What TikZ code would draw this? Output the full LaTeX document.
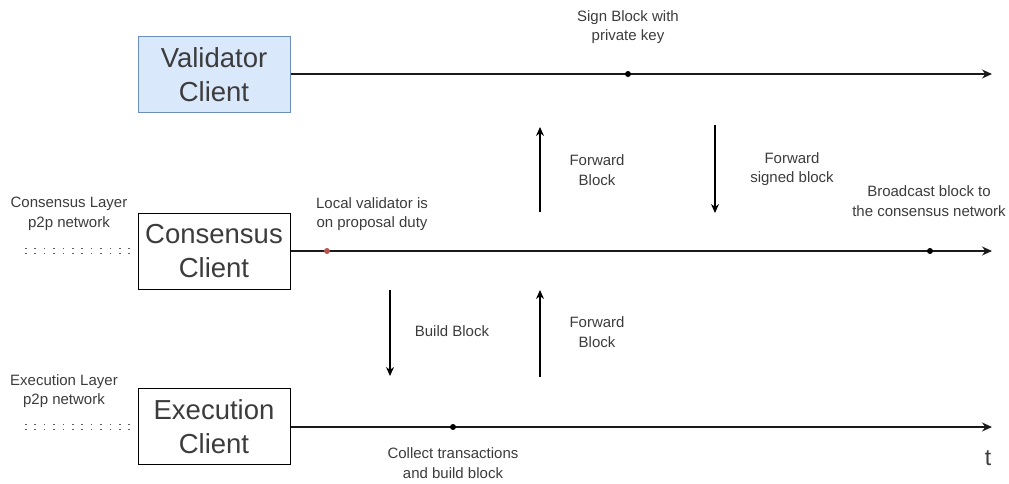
\documentclass[tikz,border=0pt]{standalone}
\usepackage{fontspec}
\setmainfont{Liberation Sans}
\usetikzlibrary{arrows.meta}
\definecolor{vfill}{HTML}{DAE8FC}
\definecolor{vline}{HTML}{6C8EBF}
\definecolor{rdot}{HTML}{B85450}
\definecolor{ink}{HTML}{1A1A1A}
\begin{document}
\begin{tikzpicture}[x=1pt,y=-1pt,
  client/.style={draw=black,line width=1pt,minimum width=152pt,minimum height=76pt,
    align=center,font=\fontsize{27.5}{34}\selectfont,text=ink!85,inner sep=0pt},
  timeline/.style={draw=ink,line width=1.2pt,-{Stealth[length=10pt,width=9pt]}},
  flow/.style={draw=black,line width=1.2pt,-{Stealth[length=9pt,width=8pt]}},
  lbl/.style={align=center,font=\fontsize{15}{19.5}\selectfont,text=ink!85,inner sep=0pt},
  evt/.style={circle,fill=black,inner sep=0pt,minimum size=6pt},
  p2p/.style={draw=ink!70,line width=1.6pt,dash pattern=on 1.6pt off 7.8pt}]
\useasboundingbox (0,0) rectangle (1009,484);

% clients
\node[client,fill=vfill,draw=vline] (val) at (214,74.5) {Validator\\Client};
\node[client] (con) at (214,251) {Consensus\\Client};
\node[client] (exe) at (214,426.5) {Execution\\Client};

% time axes
\coordinate (valend) at (992,74);
\coordinate (conend) at (992,251);
\coordinate (exeend) at (992,427);
\draw[timeline] (val.east |- valend) -- (valend);
\draw[timeline] (con.east |- conend) -- (conend);
\draw[timeline] (exe.east |- exeend) -- (exeend);

% p2p network links
\coordinate (cnet) at (25,251);
\coordinate (enet) at (25,427);
\draw[p2p] ([yshift=-2.5pt]cnet) -- ([yshift=-2.5pt]con.west |- cnet);
\draw[p2p] ([yshift=2.5pt]cnet) -- ([yshift=2.5pt]con.west |- cnet);
\draw[p2p] ([yshift=-2.5pt]enet) -- ([yshift=-2.5pt]exe.west |- enet);
\draw[p2p] ([yshift=2.5pt]enet) -- ([yshift=2.5pt]exe.west |- enet);

% events
\node[evt] (sign) at (628,74) {};
\node[evt,fill=rdot] (duty) at (327,251) {};
\node[evt] (bcast) at (930,251) {};
\node[evt] (collect) at (453,427) {};

% data flow between layers
\coordinate (fb1a) at (540,212); \coordinate (fb1b) at (540,127);
\coordinate (fsa) at (715,125);  \coordinate (fsb) at (715,213);
\coordinate (bba) at (390,290);  \coordinate (bbb) at (390,376);
\coordinate (fb2a) at (540,377); \coordinate (fb2b) at (540,290);
\draw[flow] (fb1a) -- (fb1b);
\draw[flow] (fsa) -- (fsb);
\draw[flow] (bba) -- (bbb);
\draw[flow] (fb2a) -- (fb2b);

% labels
\node[lbl] (tsign) at (628,27) {Sign Block with\\private key};
\node[lbl] (tfb1) at (597,170) {Forward\\Block};
\node[lbl] (tfs) at (792,169) {Forward\\signed block};
\node[lbl] (tduty) at (372,214) {Local validator is\\on proposal duty};
\node[lbl] (tbcast) at (929,201) {Broadcast block to\\the consensus network};
\node[lbl] (tbb) at (452,331) {Build Block};
\node[lbl] (tfb2) at (597,332) {Forward\\Block};
\node[lbl] (tcol) at (453,463) {Collect transactions\\and build block};
\node[lbl] (tcnet) at (69,214) {Consensus Layer\\p2p network};
\node[lbl] (tenet) at (64,391) {Execution Layer\\p2p network};
\node[font=\fontsize{23}{23}\selectfont,text=ink!85,inner sep=0pt] (taxis) at (988,458) {t};
\end{tikzpicture}
\end{document}
